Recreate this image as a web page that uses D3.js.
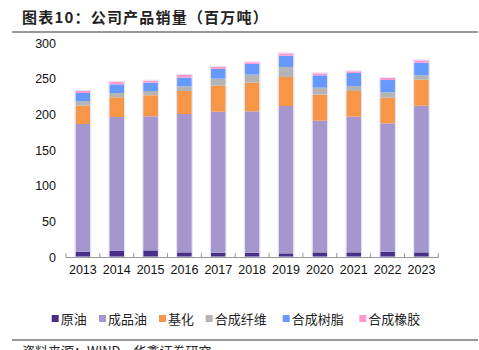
<!DOCTYPE html>
<html>
<head>
<meta charset="utf-8">
<script src="https://cdn.jsdelivr.net/npm/d3@7/dist/d3.min.js"></script>
<style>
html,body{margin:0;padding:0;background:#fff;}
svg{display:block;}
</style>
</head>
<body>
<svg id="chart" width="479" height="350"></svg>
<script>
const years = ["2013","2014","2015","2016","2017","2018","2019","2020","2021","2022","2023"];
const seriesNames = ["原油","成品油","基化","合成纤维","合成树脂","合成橡胶"];
const seriesColors = ["#4a2f88","#a597cd","#f79646","#b4b4b4","#6699ff","#ff99cc"];
const crude   = [7.5, 8.9, 9.3, 6.5, 6.0, 6.0, 5.1, 6.5, 6.5, 7.5, 6.5];
const refined = [179, 187.4, 187.9, 194, 197.7, 198.2, 206.6, 184.6, 190.2, 179.9, 205.6];
const chem    = [25.7, 27.6, 29.5, 32.2, 36.5, 40.2, 40.7, 36.5, 36.0, 35.9, 36.4];
const fiber   = [6.5, 6.0, 6.0, 6.6, 9.8, 11.2, 14.0, 9.8, 7.0, 7.6, 6.2];
const resin   = [11.2, 12.1, 11.7, 12.1, 13.6, 15.0, 15.8, 17.3, 18.3, 17.2, 17.7];
const rubber  = [2.8, 3.3, 2.8, 3.8, 2.8, 2.4, 3.3, 2.8, 2.3, 2.9, 3.3];
const yTicks = [0, 50, 100, 150, 200, 250, 300];
const titleText = "图表10：公司产品销量（百万吨）";
const sourceText = "资料来源：WIND，华鑫证券研究";

const allSeries = [crude, refined, chem, fiber, resin, rubber];
const table = years.map((y, i) => {
  const row = {year: y};
  seriesNames.forEach((n, k) => row[n] = allSeries[k][i]);
  return row;
});

const svg = d3.select("#chart");
const font = "'Noto Sans CJK SC','Noto Sans',sans-serif";

// Title
svg.append("text").attr("x", 22).attr("y", 23)
  .attr("font-family", font).attr("font-weight", "bold").attr("font-size", 15)
  .attr("letter-spacing", 1.2)
  .attr("fill", "#222").text(titleText);
svg.append("line").attr("x1", 12).attr("x2", 478).attr("y1", 32).attr("y2", 32)
  .attr("stroke", "#333").attr("stroke-width", 1.2);

const x = d3.scaleBand().domain(years).range([66, 438.3]).paddingInner(0.565).paddingOuter(0.28);
const y = d3.scaleLinear().domain([0, 300]).range([257, 43]);

const stack = d3.stack().keys(seriesNames)(table);

const g = svg.append("g");
g.selectAll("g.layer").data(stack).join("g")
  .attr("class", "layer")
  .attr("fill", (d, i) => seriesColors[i])
  .selectAll("rect").data(d => d).join("rect")
  .attr("x", d => x(d.data.year))
  .attr("width", x.bandwidth())
  .attr("y", d => y(d[1]))
  .attr("height", d => y(d[0]) - y(d[1]));

// bar light outline
g.selectAll("rect.outline").data(table).join("rect")
  .attr("class", "outline")
  .attr("x", d => x(d.year) - 0.5)
  .attr("width", x.bandwidth() + 1)
  .attr("y", d => y(d3.sum(seriesNames, n => d[n])) - 0.5)
  .attr("height", d => y(0) - y(d3.sum(seriesNames, n => d[n])) + 0.5)
  .attr("fill", "none").attr("stroke", "#e6e0f5").attr("stroke-width", 1);

// x axis
const xAxis = d3.axisBottom(x).tickSize(0).tickPadding(8);
const xg = svg.append("g").attr("transform", "translate(0,257)").call(xAxis);
xg.select(".domain").attr("stroke", "#999").attr("d", "M66,0.5H438.3");
xg.selectAll("text").attr("font-family", "'Liberation Sans',Arial,sans-serif").attr("font-size", 12.5).attr("fill", "#111");
// category boundary ticks
const bounds = d3.range(years.length + 1).map(i => 66 + i * (438.3 - 66) / years.length);
xg.selectAll("line.bt").data(bounds).join("line").attr("class", "bt")
  .attr("x1", d => d).attr("x2", d => d).attr("y1", -4).attr("y2", 0.5)
  .attr("stroke", "#999");

// y axis (labels only)
const yAxis = d3.axisLeft(y).tickValues(yTicks).tickSize(0).tickPadding(10);
const yg = svg.append("g").attr("transform", "translate(66,0)").call(yAxis);
yg.select(".domain").remove();
yg.selectAll("text").attr("font-family", "'Liberation Sans',Arial,sans-serif").attr("font-size", 12.5).attr("fill", "#111");

// legend
const legendX = [51.7, 99, 159, 205.7, 282.7, 359.3];
const lg = svg.append("g");
seriesNames.forEach((n, i) => {
  lg.append("rect").attr("x", legendX[i]).attr("y", 315).attr("width", 7).attr("height", 7).attr("fill", seriesColors[i]);
  lg.append("text").attr("x", legendX[i] + 9).attr("y", 323.5)
    .attr("font-family", font).attr("font-size", 13).attr("fill", "#222").text(n);
});

svg.append("line").attr("x1", 12).attr("x2", 478).attr("y1", 340).attr("y2", 340)
  .attr("stroke", "#333").attr("stroke-width", 1.2);
svg.append("text").attr("x", 22).attr("y", 356)
  .attr("font-family", font).attr("font-size", 13).attr("fill", "#222").text(sourceText);
</script>
</body>
</html>
